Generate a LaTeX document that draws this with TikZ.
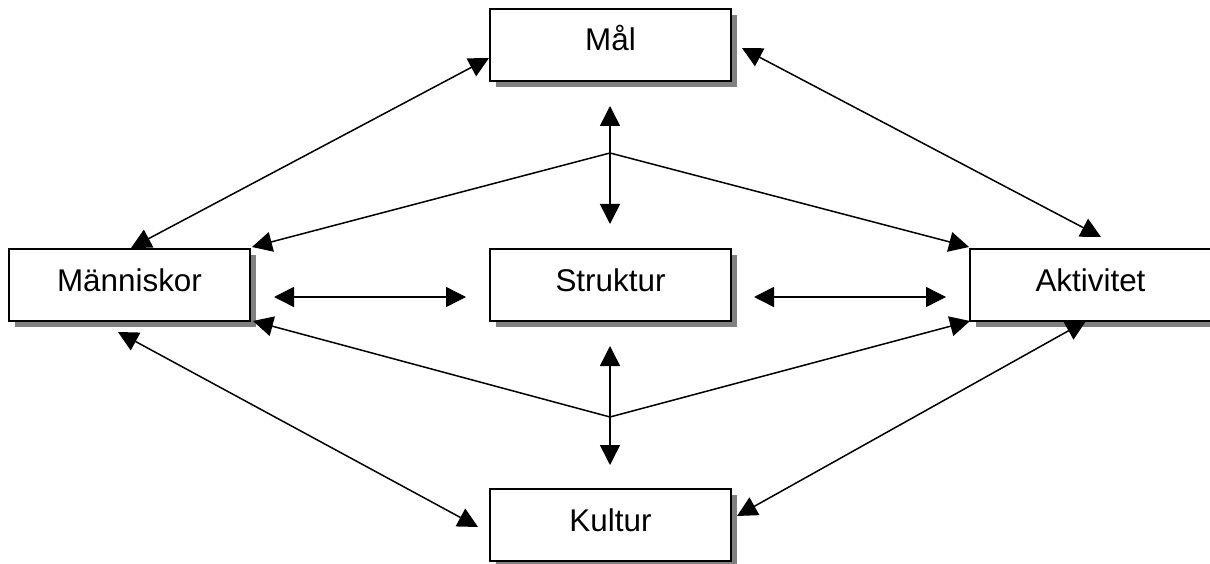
\documentclass[tikz,border=0pt]{standalone}
\usepackage{fontspec}
\setmainfont{Liberation Sans}
\usetikzlibrary{arrows.meta,shadows}
\begin{document}
\begin{tikzpicture}[x=1pt,y=-1pt,
  box/.style={draw=black,line width=2pt,fill=white,
    minimum width=241pt,minimum height=72pt,inner sep=0pt,
    text height=24pt,text depth=12pt,
    font=\fontsize{31.4}{36}\selectfont,
    drop shadow={shadow xshift=6pt,shadow yshift=-6pt,fill=black!50,opacity=1}},
  link/.style={line width=1.5pt,>={Triangle[length=20pt,width=20pt]}}]
\useasboundingbox (0,0) rectangle (1210,564);
\clip (0,0) rectangle (1210,564);
\fill[white] (0,0) rectangle (1210,564);

% boxes
\node[box] (mal)   at (610.5,45)  {Mål};
\node[box] (man)   at (129.5,285) {Människor};
\node[box] (str)   at (610.5,285) {Struktur};
\node[box] (akt)   at (1090.5,285) {Aktivitet};
\node[box] (kul)   at (610.5,525) {Kultur};

% arrow end points
\coordinate (malL) at (489,58);
\coordinate (malR) at (742,48);
\coordinate (manT) at (131,248);
\coordinate (manTR) at (252,247);
\coordinate (manBR) at (253,321);
\coordinate (manB) at (118,332);
\coordinate (aktT) at (1101,237);
\coordinate (aktTL) at (969,247);
\coordinate (aktBL) at (970,321);
\coordinate (aktB) at (1086,321);
\coordinate (kulL) at (478,527);
\coordinate (kulR) at (737,516);
\coordinate (up1) at (610,106);
\coordinate (dn1) at (610,224);
\coordinate (j1) at (610,153);
\coordinate (up2) at (610,346);
\coordinate (dn2) at (610,465);
\coordinate (j2) at (610,417);
\coordinate (hL1) at (274,297);
\coordinate (hR1) at (466,297);
\coordinate (hL2) at (754,297);
\coordinate (hR2) at (946,297);

% connectors
\draw[link,<->] (malL) -- (manT);
\draw[link,<->] (malR) -- (aktT);
\draw[link,<->] (manB) -- (kulL);
\draw[link,<->] (aktB) -- (kulR);
\draw[link,<->] (up1) -- (dn1);
\draw[link,<->] (up2) -- (dn2);
\draw[link,->] (j1) -- (manTR);
\draw[link,->] (j1) -- (aktTL);
\draw[link,->] (j2) -- (manBR);
\draw[link,->] (j2) -- (aktBL);
\draw[link,<->] (hL1) -- (hR1);
\draw[link,<->] (hL2) -- (hR2);
\end{tikzpicture}
\end{document}
